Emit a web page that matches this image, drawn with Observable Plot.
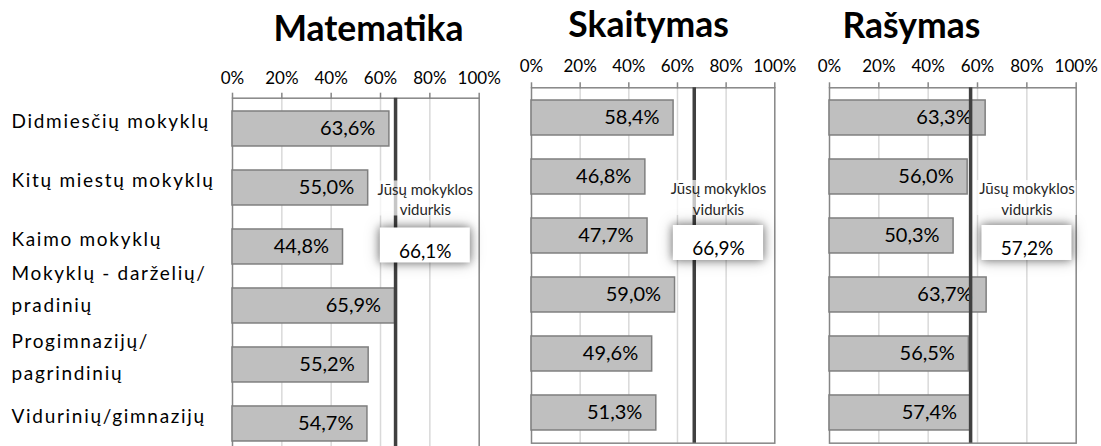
<!DOCTYPE html>
<html><head><meta charset="utf-8">
<script src="https://cdn.jsdelivr.net/npm/d3@7"></script>
<script src="https://cdn.jsdelivr.net/npm/@observablehq/plot@0.6"></script>
<style>
html,body{margin:0;padding:0;background:#fff;overflow:hidden;}
#chart{position:relative;width:1101px;height:446px;overflow:hidden;font-family:Lato,sans-serif;}
.title{position:absolute;font-weight:bold;font-size:35.5px;line-height:1;white-space:nowrap;transform:translateX(-50%);color:#000;}
.panel{position:absolute;top:0;}
.labels text{letter-spacing:1.7px;}
</style></head><body><div id="chart"></div>
<script>
// ---- data ----
const categories = ["Didmiesčių mokyklų", "Kitų miestų mokyklų", "Kaimo mokyklų", "Mokyklų - darželių/\npradinių", "Progimnazijų/\npagrindinių", "Vidurinių/gimnazijų"];
const subjects = ["Matematika", "Skaitymas", "Rašymas"];
const matematika = [63.6, 55.0, 44.8, 65.9, 55.2, 54.7];
const skaitymas = [58.4, 46.8, 47.7, 59.0, 49.6, 51.3];
const rasymas = [63.3, 56.0, 50.3, 63.7, 56.5, 57.4];
const schoolAvg = [66.1, 66.9, 57.2];
const xTicks = [0, 20, 40, 60, 80, 100];
const avgLabel = "Jūsų mokyklos\nvidurkis";

// ---- layout ----
const seriesValues = [matematika, skaitymas, rasymas];
const layout = [
  {frameLeft: 232.3, frameWidth: 246.7, frameTop: 97.7, titleX: 368.5, titleTop: 9.5, box: [59.9, 96.4], labelDy: 10.5, boxDy: -1.5, tickPad: 8},
  {frameLeft: 530.7, frameWidth: 243.3, frameTop: 87.3, titleX: 648.5, titleTop: 6.2, box: [58.3, 95.4], labelDy: 21, boxDy: 7, tickPad: 10},
  {frameLeft: 829.3, frameWidth: 246.7, frameTop: 87.3, titleX: 911.5, titleTop: 7.2, box: [61.8, 98.3], labelDy: 21, boxDy: 7, tickPad: 10}
];
const frameHeight = 355.4;
const side = 30;
const yScale = {domain: categories, paddingInner: 0.414, paddingOuter: 0.207, axis: null};
const fmt = v => v.toFixed(1).replace(".", ",") + "%";
const svgStyle = "font-family: Lato, sans-serif; background: transparent; overflow: visible;";
const glow = "drop-shadow(0 0 4px rgba(0,0,0,0.4)) drop-shadow(0 0 7px rgba(0,0,0,0.3))";

const chart = document.getElementById("chart");

// category labels
const labelOpts = {y: d => d, frameAnchor: "left", textAnchor: "start", fontSize: 19, lineHeight: 1.7, fill: "#000"};
const labelPlot = Plot.plot({
  width: 232, height: 446, marginTop: 87.3, marginBottom: 446 - 87.3 - frameHeight, marginLeft: 11, marginRight: 0,
  style: svgStyle,
  y: yScale,
  marks: [
    Plot.text(categories.filter((c, j) => j !== 3), {...labelOpts, dy: 0}),
    Plot.text(categories.filter((c, j) => j === 3), {...labelOpts, dy: -9})
  ]
});
labelPlot.classList.add("panel", "labels");
labelPlot.style.left = "0px";
chart.appendChild(labelPlot);

subjects.forEach((subject, i) => {
  const L = layout[i];
  const data = categories.map((c, j) => ({category: c, value: seriesValues[i][j]}));
  const avg = schoolAvg[i];
  const boxMid = (L.box[0] + L.box[1]) / 2;
  const h = Math.ceil(L.frameTop + frameHeight + 1);
  const svg = Plot.plot({
    width: L.frameWidth + 2 * side, height: h,
    marginLeft: side, marginRight: side, marginTop: L.frameTop, marginBottom: h - L.frameTop - frameHeight,
    style: svgStyle,
    x: {domain: [0, 100], axis: null, label: null},
    y: yScale,
    marks: [
      Plot.ruleX(xTicks.slice(1, -1), {stroke: "#d9d9d9", strokeWidth: 1.5}),
      Plot.frame({stroke: "#868686", strokeWidth: 1.5}),
      Plot.axisX(xTicks, {anchor: "top", label: null, tickSize: 6, tickPadding: L.tickPad, tickFormat: d => d + "%", fontSize: 17, stroke: "#868686", strokeWidth: 1.5, fill: "#000"}),
      Plot.barX(data, {x: "value", y: "category", fill: "#bfbfbf", stroke: "#7f7f7f", strokeWidth: 1.5}),
      Plot.text(data, {x: "value", y: "category", text: d => fmt(d.value), textAnchor: "end", dx: -14, fontSize: 20, fill: "#000"}),
      Plot.ruleX([avg], {stroke: "#404040", strokeWidth: 3.5}),
      Plot.barX([avgLabel], {x1: L.box[0] - 2, x2: L.box[1] + 2, y: () => categories[1], dy: L.labelDy, fill: "#fff", fillOpacity: 0.7}),
      Plot.text([avgLabel], {x: () => boxMid, y: () => categories[1], dy: L.labelDy, text: d => d, fontSize: 15, lineHeight: 1.35, fill: "#262626"}),
      Plot.barX([avg], {x1: L.box[0], x2: L.box[1], y: () => categories[2], dy: L.boxDy, fill: "#fff"}),
      Plot.text([avg], {x: () => boxMid, y: () => categories[2], dy: L.boxDy + 6, text: d => fmt(d), fontSize: 19, fill: "#000"})
    ]
  });
  const bars = svg.querySelectorAll('g[aria-label="bar"]');
  if (bars.length) bars[bars.length - 1].style.filter = glow;
  svg.classList.add("panel");
  svg.style.left = (L.frameLeft - side) + "px";
  chart.appendChild(svg);

  const t = document.createElement("div");
  t.className = "title";
  t.textContent = subject;
  t.style.left = L.titleX + "px";
  t.style.top = L.titleTop + "px";
  chart.appendChild(t);
});
</script>
</body></html>
